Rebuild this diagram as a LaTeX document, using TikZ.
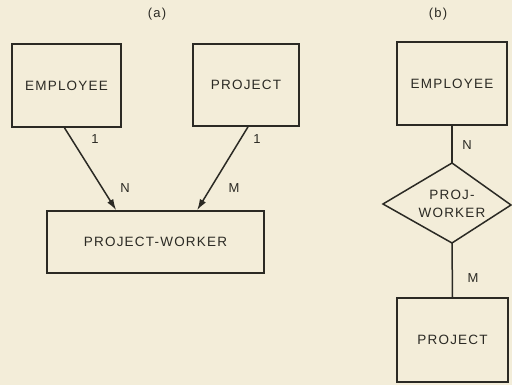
\documentclass[tikz,border=0pt]{standalone}
\usepackage{fontspec}
\setmainfont{Liberation Sans}[LetterSpace=9]
\usetikzlibrary{arrows.meta,calc}
\definecolor{paper}{HTML}{F3EDD9}
\definecolor{ink}{HTML}{2B2A24}
\begin{document}
\begin{tikzpicture}[x=1pt,y=-1pt,
  ent/.style={draw=ink,line width=1.7pt,fill=none,inner sep=0pt,text=ink,font=\fontsize{13.5}{15}\selectfont},
  lbl/.style={text=ink,font=\fontsize{13}{15}\selectfont,inner sep=0pt},
  conn/.style={draw=ink,line width=1.5pt},
  arr/.style={conn,-{Latex[length=11pt,width=7pt]}}]
\fill[paper] (0,0) rectangle (512,385);
\useasboundingbox (0,0) rectangle (512,385);
% (a)
\node[lbl] (capa) at (157,14) {(a)};
\node[ent,minimum width=109pt,minimum height=83pt] (ea) at (66.5,85.5) {EMPLOYEE};
\node[ent,minimum width=106pt,minimum height=82pt] (pa) at (246,85) {PROJECT};
\node[ent,minimum width=217pt,minimum height=62pt] (pw) at (155.5,242) {PROJECT-WORKER};
\coordinate (ea1) at ($(ea.south)+(-2,0)$);
\coordinate (pa1) at ($(pa.south)+(2,0)$);
\coordinate (pw1) at ($(pw.north west)+(70,0)$);
\coordinate (pw2) at ($(pw.north west)+(151,0)$);
\draw[arr] (ea1) -- (pw1);
\draw[arr] (pa1) -- (pw2);
\node[lbl] (l1) at (95,139) {1};
\node[lbl] (lN) at (125,188) {N};
\node[lbl] (l2) at (257,139) {1};
\node[lbl] (lM) at (234,188) {M};
% (b)
\node[lbl] (capb) at (438,14) {(b)};
\node[ent,minimum width=110pt,minimum height=83pt] (eb) at (452,83.5) {EMPLOYEE};
\node[ent,minimum width=111pt,minimum height=84pt] (pb) at (452.5,340) {PROJECT};
\coordinate (dt) at (452,163);
\coordinate (dl) at (383,204);
\coordinate (db) at (452,243);
\coordinate (dr) at (511,205);
\draw[ink,line width=1.5pt,line join=miter] (dt) -- (dl) -- (db) -- (dr) -- cycle;
\node[lbl,font=\fontsize{13.5}{18}\selectfont,align=center] (dtext) at (452,204) {PROJ-\\WORKER};
\draw[conn] (eb.south) -- (dt);
\draw[conn] (db) -- (pb.north);
\node[lbl] (lN2) at (467,145) {N};
\node[lbl] (lM2) at (473,278) {M};
\end{tikzpicture}
\end{document}
